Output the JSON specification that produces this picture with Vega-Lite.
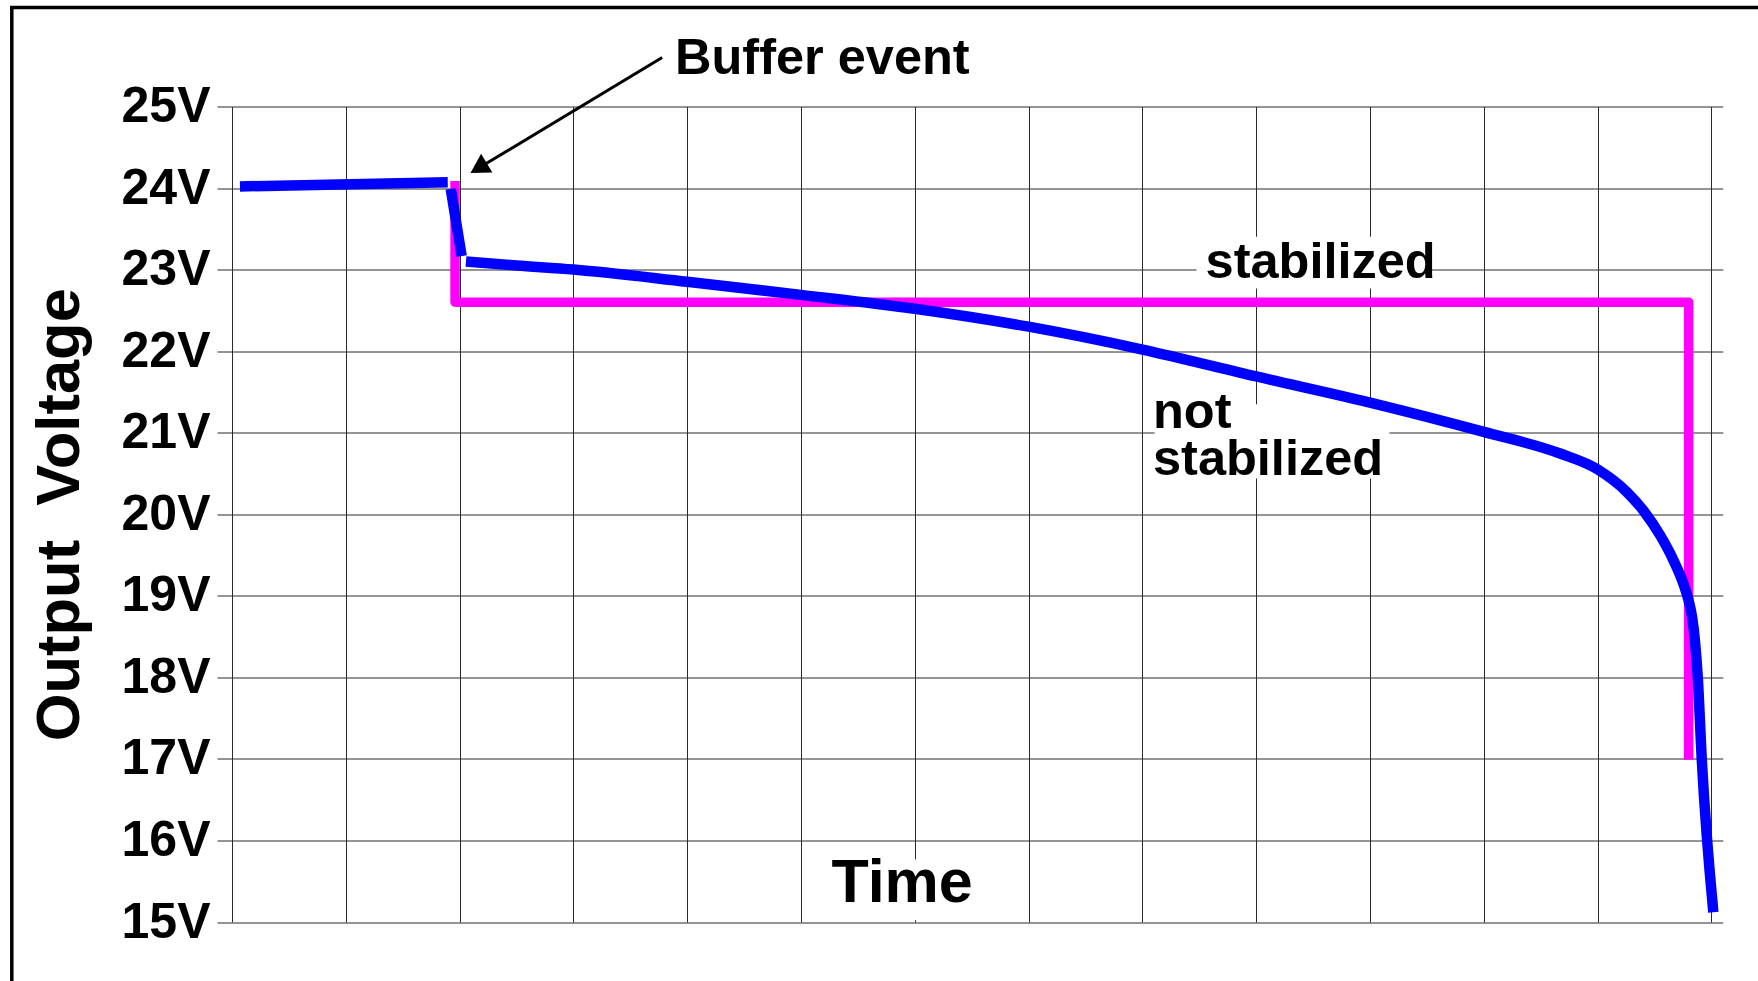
{
  "$schema": "https://vega.github.io/schema/vega-lite/v6.json",
  "autosize": {"type": "none"},
  "width": 1490.8,
  "height": 815.5,
  "padding": {"left": 232, "top": 106.5, "right": 35.2, "bottom": 59},
  "background": "white",
  "config": {"view": {"stroke": null}},
  "datasets": {
    "frame": [{"t": -1.935, "t2": 15, "v": 26.215, "v2": 12}],
    "boxes": [
      {"t": 8.475, "t2": 10.545, "v": 23.402, "v2": 22.769},
      {"t": 8.107, "t2": 10.171, "v": 21.35, "v2": 20.438},
      {"t": 5.237, "t2": 6.529, "v": 15.767, "v2": 15.02}
    ],
    "stabilized": [
      {"i": 0, "t": 1.96, "v": 24.086},
      {"i": 1, "t": 1.96, "v": 22.6},
      {"i": 2, "t": 12.8, "v": 22.6},
      {"i": 3, "t": 12.8, "v": 16.99}
    ],
    "notstabilized": [
      {"seg": "a", "i": 0, "t": 0.07, "v": 24.02},
      {"seg": "a", "i": 1, "t": 1.896, "v": 24.07},
      {"seg": "b", "i": 2, "t": 1.922, "v": 23.99},
      {"seg": "b", "i": 3, "t": 2.018, "v": 23.166},
      {"seg": "c", "i": 4, "t": 2.056, "v": 23.1},
      {"seg": "c", "i": 5, "t": 2.5, "v": 23.05},
      {"seg": "c", "i": 6, "t": 3.0, "v": 23.0},
      {"seg": "c", "i": 7, "t": 4.0, "v": 22.85},
      {"seg": "c", "i": 8, "t": 5.0, "v": 22.69},
      {"seg": "c", "i": 9, "t": 6.0, "v": 22.52},
      {"seg": "c", "i": 10, "t": 7.0, "v": 22.3},
      {"seg": "c", "i": 11, "t": 8.0, "v": 22.02},
      {"seg": "c", "i": 12, "t": 9.0, "v": 21.69},
      {"seg": "c", "i": 13, "t": 10.0, "v": 21.37},
      {"seg": "c", "i": 14, "t": 11.0, "v": 21.01},
      {"seg": "c", "i": 15, "t": 11.67, "v": 20.745},
      {"seg": "c", "i": 16, "t": 12.0, "v": 20.55},
      {"seg": "c", "i": 17, "t": 12.256, "v": 20.274},
      {"seg": "c", "i": 18, "t": 12.4, "v": 20.05},
      {"seg": "c", "i": 19, "t": 12.55, "v": 19.74},
      {"seg": "c", "i": 20, "t": 12.665, "v": 19.44},
      {"seg": "c", "i": 21, "t": 12.753, "v": 19.15},
      {"seg": "c", "i": 22, "t": 12.8, "v": 18.94},
      {"seg": "c", "i": 23, "t": 12.83, "v": 18.74},
      {"seg": "c", "i": 24, "t": 12.855, "v": 18.45},
      {"seg": "c", "i": 25, "t": 12.88, "v": 18.0},
      {"seg": "c", "i": 26, "t": 12.915, "v": 17.0},
      {"seg": "c", "i": 27, "t": 13.017, "v": 15.12}
    ],
    "arrow": [
      {"i": 0, "t": 3.78, "v": 25.6},
      {"i": 1, "t": 2.167, "v": 24.245}
    ],
    "head": [{"t": 2.167, "v": 24.245}],
    "labels": [
      {"text": "Buffer event", "t": 3.893, "v": 25.399},
      {"text": "stabilized", "t": 8.555, "v": 22.892},
      {"text": "not\nstabilized", "t": 8.093, "v": 21.052}
    ],
    "xlabel": [{"text": "Time", "t": 5.268, "v": 15.243}]
  },
  "encoding": {
    "x": {
      "field": "t", "type": "quantitative",
      "scale": {"domain": [0, 13.1], "nice": false, "zero": false},
      "axis": {
        "values": [0, 1, 2, 3, 4, 5, 6, 7, 8, 9, 10, 11, 12, 13],
        "labels": false, "ticks": false, "domain": false,
        "grid": true, "gridColor": "#2a2a2a", "gridWidth": 1, "gridOpacity": 1,
        "title": null
      }
    },
    "y": {
      "field": "v", "type": "quantitative",
      "scale": {"domain": [15, 25], "nice": false, "zero": false},
      "axis": {
        "values": [15, 16, 17, 18, 19, 20, 21, 22, 23, 24, 25],
        "labelExpr": "datum.value + 'V'",
        "grid": true, "gridColor": "#2a2a2a", "gridWidth": 1, "gridOpacity": 1,
        "ticks": true, "tickColor": "#2a2a2a", "tickSize": 15, "tickWidth": 1,
        "domain": false,
        "labelFont": "Liberation Sans", "labelFontWeight": "bold", "labelFontSize": 50,
        "labelColor": "#000", "labelPadding": 7, "labelFlush": false, "labelOverlap": false,
        "title": "Output\u00a0\u00a0Voltage",
        "titleFont": "Liberation Sans", "titleFontWeight": "bold", "titleFontSize": 61.5,
        "titleColor": "#000", "titlePadding": 30
      }
    }
  },
  "layer": [
    {
      "data": {"name": "frame"},
      "mark": {"type": "rect", "fill": null, "fillOpacity": 0, "stroke": "#000", "strokeWidth": 3.5},
      "encoding": {"x2": {"field": "t2"}, "y2": {"field": "v2"}}
    },
    {
      "data": {"name": "boxes"},
      "mark": {"type": "rect", "fill": "white", "stroke": null},
      "encoding": {"x2": {"field": "t2"}, "y2": {"field": "v2"}}
    },
    {
      "data": {"name": "stabilized"},
      "mark": {"type": "line", "color": "#ff00ff", "strokeWidth": 9.5, "strokeJoin": "round", "strokeCap": "butt"},
      "encoding": {"order": {"field": "i", "type": "quantitative"}}
    },
    {
      "data": {"name": "notstabilized"},
      "mark": {"type": "line", "color": "#0000ff", "strokeWidth": 10.5, "strokeJoin": "round", "strokeCap": "butt", "interpolate": "monotone"},
      "encoding": {
        "detail": {"field": "seg", "type": "nominal"},
        "order": {"field": "i", "type": "quantitative"}
      }
    },
    {
      "data": {"name": "arrow"},
      "mark": {"type": "line", "color": "#000", "strokeWidth": 3},
      "encoding": {"order": {"field": "i", "type": "quantitative"}}
    },
    {
      "data": {"name": "head"},
      "mark": {"type": "point", "shape": "triangle-up", "size": 480, "angle": 239, "filled": true, "color": "#000", "opacity": 1, "strokeWidth": 0}
    },
    {
      "data": {"name": "labels"},
      "mark": {"type": "text", "align": "left", "baseline": "alphabetic", "font": "Liberation Sans", "fontWeight": "bold", "fontSize": 50.5, "color": "#000", "lineBreak": "\n", "lineHeight": 46.7},
      "encoding": {"text": {"field": "text", "type": "nominal"}}
    },
    {
      "data": {"name": "xlabel"},
      "mark": {"type": "text", "align": "left", "baseline": "alphabetic", "font": "Liberation Sans", "fontWeight": "bold", "fontSize": 61, "color": "#000"},
      "encoding": {"text": {"field": "text", "type": "nominal"}}
    }
  ]
}
